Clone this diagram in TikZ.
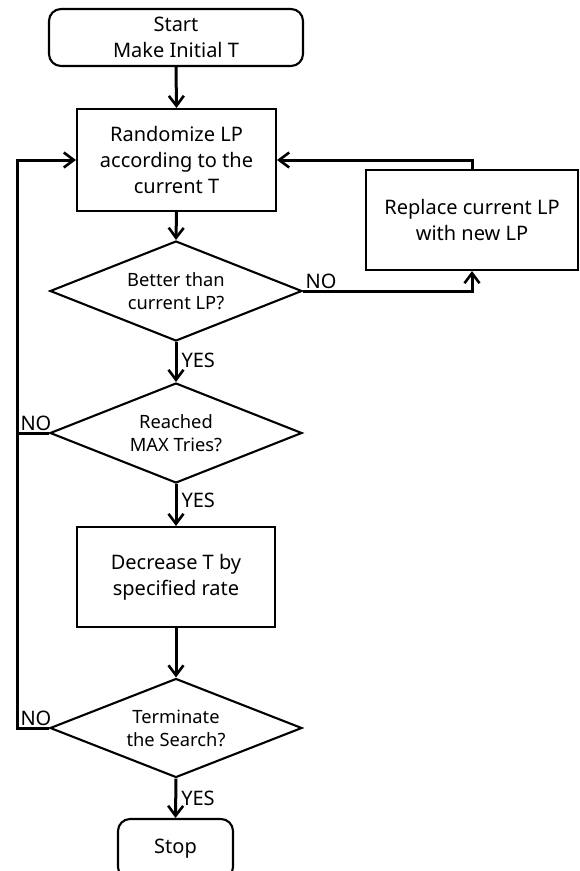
\documentclass[tikz,border=0pt]{standalone}
\usepackage{fontspec}
\setmainfont{Noto Sans}
\usetikzlibrary{shapes.geometric,arrows.meta}
\begin{document}
\begin{tikzpicture}[x=1pt,y=-1pt,
  box/.style={draw,line width=2.1pt,rectangle,align=center,inner sep=0pt,font=\fontsize{20}{26}\selectfont},
  rbox/.style={box,rounded corners=12pt},
  dia/.style={draw,line width=2.1pt,diamond,aspect=2.5,align=center,inner sep=0pt,minimum width=252pt,minimum height=100pt,font=\fontsize{18.3}{23}\selectfont},
  conn/.style={line width=3pt,-{Straight Barb[length=10pt,width=15pt,line width=2.6pt]}},
  line/.style={line width=3pt},
  lbl/.style={font=\fontsize{20}{22}\selectfont,inner sep=1pt},
  ylbl/.style={lbl,anchor=west,xshift=3pt}]
\useasboundingbox (0,0) rectangle (579,871);
\clip (0,0) rectangle (579,871);
\fill[white] (0,0) rectangle (579,871);
\node[rbox,minimum width=254pt,minimum height=57pt] (start) at (176,37.5) {Start\\Make Initial T};
\node[box,minimum width=199pt,minimum height=102pt] (rand) at (176.5,160) {Randomize LP\\according to the\\current T};
\node[box,minimum width=212pt,minimum height=100pt] (repl) at (472,220) {Replace current LP\\with new LP};
\node[dia] (d1) at (176,291) {Better than\\current LP?};
\node[dia] (d2) at (176,433) {Reached\\MAX Tries?};
\node[box,minimum width=198pt,minimum height=100pt] (dec) at (176,577) {Decrease T by\\specified rate};
\node[dia,minimum height=99pt] (d3) at (176,728) {Terminate\\the Search?};
\node[rbox,minimum width=115pt,minimum height=60pt] (stop) at (175.5,849) {Stop};
\coordinate (lx) at (17,0);
\draw[conn] (start.south) -- (rand.north);
\draw[conn] (rand.south) -- (d1.north);
\draw[conn] (d1.south) -- node[ylbl,pos=0.45]{YES} (d2.north);
\draw[conn] (d2.south) -- node[ylbl,pos=0.38]{YES} (dec.north);
\draw[conn] (dec.south) -- (d3.north);
\draw[conn] (d3.south) -- node[ylbl,pos=0.5]{YES} (stop.north);
\draw[conn] (d1.east) -- node[lbl,anchor=south west,pos=0]{NO} (d1.east -| repl.south) -- (repl.south);
\draw[conn] (repl.north) |- (rand.east);
\draw[conn] (d3.west) -- node[lbl,anchor=south west,pos=1,xshift=1pt]{NO} (d3.west -| lx) |- (rand.west);
\draw[line] (d2.west) -- node[lbl,anchor=south west,pos=1,xshift=1pt]{NO} (d2.west -| lx);
\end{tikzpicture}
\end{document}
